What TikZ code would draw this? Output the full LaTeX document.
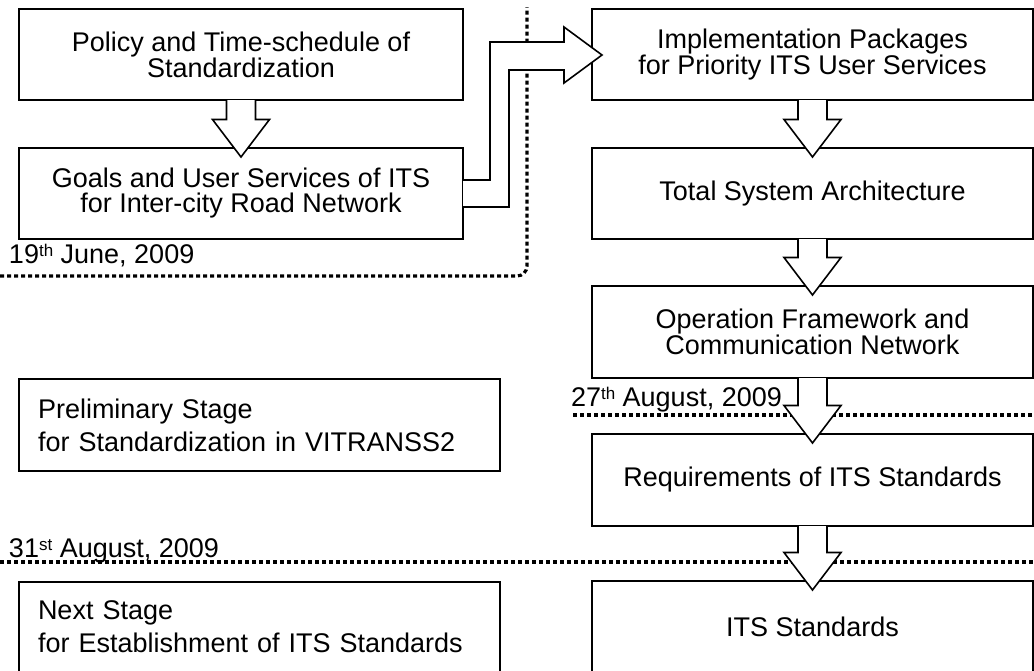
\documentclass[tikz,border=0pt]{standalone}
\usepackage{fontspec}
\setmainfont{Liberation Sans}
\usetikzlibrary{calc}
\tikzset{
  boxc/.style={draw, line width=1.6pt, outer sep=0pt, inner sep=0pt, align=center,
    font=\fontsize{27}{25}\selectfont},
  boxl/.style={draw, line width=1.6pt, outer sep=0pt, inner xsep=0pt, inner ysep=0pt,
    text width=443pt, align=left, minimum width=481pt,
    font=\fontsize{27}{33}\selectfont},
  datetext/.style={inner sep=0pt, outer sep=0pt, font=\fontsize{27}{25}\selectfont},
  dotline/.style={line width=3.2pt, dash pattern=on 4pt off 3pt},
  blockarrow/.style={line width=1.6pt, fill=white, draw=black, line join=miter},
}
\newcommand\blkdown[2]{%
  \filldraw[blockarrow] ($(#1.south)+(-14.5,0)$) -- ($(#2.north)+(-14.5,-28.5)$)
    -- ($(#2.north)+(-28.5,-28.5)$) -- ($(#2.north)+(0,9)$)
    -- ($(#2.north)+(28.5,-28.5)$) -- ($(#2.north)+(14.5,-28.5)$)
    -- ($(#1.south)+(14.5,0)$);}
\newcommand\supsm[1]{\raisebox{7pt}{\fontsize{17}{17}\selectfont #1}}
\begin{document}
\begin{tikzpicture}[x=1pt,y=-1pt]
\useasboundingbox (0,0) rectangle (1034,670);
\fill[white] (0,0) rectangle (1034,670);
% left column
\node[boxc, minimum width=444pt, minimum height=91pt] (L1) at (241,54.5)
  {Policy and Time-schedule of\\Standardization};
\node[boxc, minimum width=444pt, minimum height=91pt] (L2) at (241,193.5)
  {Goals and User Services of ITS\\for Inter-city Road Network};
\node[boxl, minimum height=92pt] (P) at (259.5,425)
  {Preliminary Stage\\for Standardization in VITRANSS2};
\node[boxl, minimum height=90pt] (N) at (259.5,627)
  {Next Stage\\for Establishment of ITS Standards};
% right column
\node[boxc, minimum width=441pt, minimum height=91pt] (R1) at (812.5,54.5)
  {Implementation Packages\\for Priority ITS User Services};
\node[boxc, minimum width=441pt, minimum height=91pt] (R2) at (812.5,193.5)
  {Total System Architecture};
\node[boxc, minimum width=441pt, minimum height=92pt] (R3) at (812.5,332)
  {Operation Framework and\\Communication Network};
\node[boxc, minimum width=441pt, minimum height=92pt] (R4) at (812.5,480)
  {Requirements of ITS Standards};
\node[boxc, minimum width=441pt, minimum height=91pt] (R5) at (812.5,626.5)
  {ITS Standards};
% dotted milestone lines
\coordinate (a0) at (0,276);
\coordinate (a1) at (527,276);
\coordinate (a2) at (527,7);
\draw[dotline, rounded corners=10pt] (a0) -- (a1) -- (a2);
\coordinate (b0) at (573,415);
\coordinate (b1) at (1034,415);
\draw[dotline] (b0) -- (b1);
\coordinate (c0) at (0,562);
\coordinate (c1) at (1034,562);
\draw[dotline] (c0) -- (c1);
% block arrows
\blkdown{L1}{L2}
\blkdown{R1}{R2}
\blkdown{R2}{R3}
\blkdown{R3}{R4}
\blkdown{R4}{R5}
\filldraw[blockarrow] ($(L2.east)+(0,-13.5)$) -- (490,180) -- (490,42) -- (564,42)
  -- (564,27) -- ($(R1.west)+(10,0.5)$) -- (564,83) -- (564,70) -- (509,70)
  -- (509,207) -- ($(L2.east)+(0,13.5)$);
% dates
\node[datetext, anchor=base west] (d1) at (9,263) {19\supsm{th} June, 2009};
\node[datetext, anchor=base west] (d2) at (571,406) {27\supsm{th} August, 2009};
\node[datetext, anchor=base west] (d3) at (9,557) {31\supsm{st} August, 2009};
\end{tikzpicture}
\end{document}
